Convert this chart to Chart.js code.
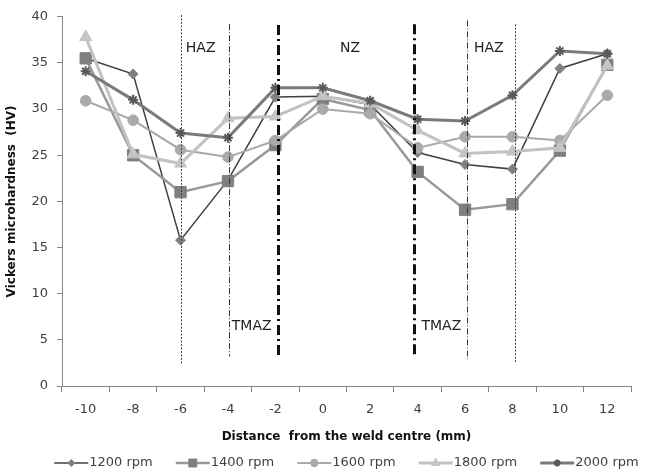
<!DOCTYPE html>
<html>
<head>
<meta charset="utf-8">
<title>Vickers microhardness profile</title>
<script src="https://cdn.jsdelivr.net/npm/chart.js@4.4.1/dist/chart.umd.min.js"></script>
<style>
  body { margin: 0; background: #fff; }
  #wrap { width: 646px; height: 472px; position: relative; }
</style>
</head>
<body>
<div id="wrap"><canvas id="hv"></canvas></div>
<script>
// distance from the weld centre (mm)
const distances = ['-10', '-8', '-6', '-4', '-2', '0', '2', '4', '6', '8', '10', '12'];

// microhardness (HV) for each tool speed
const hv1200 = [35.5, 33.8, 15.8, 22.3, 31.3, 31.4, 30.5, 25.3, 24.0, 23.5, 34.4, 36.0];
const hv1400 = [35.5, 25.0, 21.0, 22.2, 26.1, 31.1, 29.9, 23.2, 19.1, 19.7, 25.5, 34.8];
const hv1600 = [30.9, 28.8, 25.6, 24.8, 26.6, 30.0, 29.5, 25.8, 27.0, 27.0, 26.6, 31.5];
const hv1800 = [37.8, 25.1, 24.1, 29.0, 29.2, 31.4, 30.6, 27.7, 25.2, 25.4, 25.8, 34.7];
const hv2000 = [34.1, 31.0, 27.4, 26.9, 32.3, 32.3, 30.9, 28.9, 28.7, 31.5, 36.3, 36.0];

const seriesNames = ['1200 rpm', '1400 rpm', '1600 rpm', '1800 rpm', '2000 rpm'];

// zone boundary lines (x in mm, y range in HV)
const zoneX = [-6, -3.95, -1.9, 3.85, 6.1, 8.1];
const zoneTop = [40.2, 39.2, 39.1, 39.2, 39.6, 39.2];
const zoneBottom = [2.3, 3.2, 3.0, 3.0, 2.9, 2.5];

// zone names
const zoneNames = ['HAZ', 'NZ', 'HAZ', 'TMAZ', 'TMAZ'];
const zoneNameX = [-5.15, 1.15, 7.0, -3.0, 5.0];
const zoneNameY = [36.6, 36.6, 36.6, 6.5, 6.5];

const FONT = '"DejaVu Sans", "Open Sans", sans-serif';

function mmToIndex(mm) {
  const first = Number(distances[0]);
  const step = Number(distances[1]) - first;
  return (mm - first) / step;
}

const zoneStyles = [
  { width: 1, dash: [2, 1.5], color: '#444' },
  { width: 1, dash: [6, 2, 1, 2], color: '#333' },
  { width: 3, dash: [10, 4, 2, 4], color: '#111' },
  { width: 3, dash: [10, 4, 2, 4], color: '#111' },
  { width: 1, dash: [6, 2, 1, 2], color: '#333' },
  { width: 1, dash: [2, 1.5], color: '#444' }
];

const zonePlugin = {
  id: 'zones',
  afterDatasetsDraw(chart) {
    const ctx = chart.ctx;
    const xs = chart.scales.x, ys = chart.scales.y;
    ctx.save();
    zoneX.forEach((mm, i) => {
      const st = zoneStyles[i];
      const px = Math.round(xs.getPixelForValue(mmToIndex(mm))) + 0.5;
      ctx.strokeStyle = st.color;
      ctx.lineWidth = st.width;
      ctx.setLineDash(st.dash);
      ctx.beginPath();
      ctx.moveTo(px, ys.getPixelForValue(zoneTop[i]));
      ctx.lineTo(px, ys.getPixelForValue(zoneBottom[i]));
      ctx.stroke();
    });
    ctx.setLineDash([]);
    ctx.fillStyle = '#222';
    ctx.font = '14px ' + FONT;
    ctx.textAlign = 'center';
    ctx.textBaseline = 'middle';
    zoneNames.forEach((name, i) => {
      ctx.fillText(name, xs.getPixelForValue(mmToIndex(zoneNameX[i])), ys.getPixelForValue(zoneNameY[i]));
    });
    ctx.restore();
  }
};

// legend row: line + marker, then label
const legendPlugin = {
  id: 'legendRow',
  afterDraw(chart) {
    const ctx = chart.ctx;
    const area = chart.chartArea;
    const iconW = 34, textGap = 1, itemGap = 23;
    ctx.save();
    ctx.font = '13px ' + FONT;
    const items = chart.data.datasets.map(ds => ({ ds, w: iconW + textGap + ctx.measureText(ds.label).width }));
    const total = items.reduce((s, it) => s + it.w, 0) + itemGap * (items.length - 1);
    let x = (area.left + area.right) / 2 - total / 2;
    const y = chart.height - 9;
    items.forEach(it => {
      const ds = it.ds;
      ctx.strokeStyle = ds.borderColor;
      ctx.lineWidth = ds.borderWidth;
      ctx.beginPath();
      ctx.moveTo(x, y);
      ctx.lineTo(x + iconW, y);
      ctx.stroke();
      if (Chart.helpers && Chart.helpers.drawPoint) {
        ctx.fillStyle = ds.pointBackgroundColor;
        ctx.strokeStyle = ds.pointBorderColor;
        ctx.lineWidth = ds.pointBorderWidth;
        Chart.helpers.drawPoint(ctx, { pointStyle: ds.pointStyle, radius: ds.pointRadius * 0.7, rotation: 0, borderWidth: ds.pointBorderWidth }, x + iconW / 2, y);
      }
      ctx.fillStyle = '#404040';
      ctx.textAlign = 'left';
      ctx.textBaseline = 'middle';
      ctx.fillText(ds.label, x + iconW + textGap, y);
      x += it.w + itemGap;
    });
    ctx.restore();
  }
};

function series(i, data, line, lw, style, marker, radius, order) {
  return {
    label: seriesNames[i],
    data: data,
    borderColor: line,
    borderWidth: lw,
    pointStyle: style,
    pointRadius: radius,
    pointBackgroundColor: marker,
    pointBorderColor: marker,
    pointBorderWidth: style === 'star' ? 2 : 1,
    tension: 0,
    fill: false,
    order: order
  };
}

new Chart(document.getElementById('hv'), {
  type: 'line',
  data: {
    labels: distances,
    datasets: [
      series(0, hv1200, '#404040', 1.5, 'rectRot', '#808080', 5, 5),
      series(1, hv1400, '#999999', 2.5, 'rect', '#7f7f7f', 8, 4),
      series(2, hv1600, '#a9a9a9', 2, 'circle', '#a9a9a9', 5.3, 3),
      series(3, hv1800, '#c2c2c2', 3, 'triangle', '#c4c4c4', 7, 2),
      series(4, hv2000, '#7a7a7a', 3, 'star', '#5a5a5a', 5, 1)
    ]
  },
  options: {
    responsive: true,
    maintainAspectRatio: false,
    animation: false,
    layout: { padding: { left: 0, top: 16, right: 15, bottom: 26 } },
    plugins: {
      legend: { display: false },
      tooltip: { enabled: false }
    },
    scales: {
      x: {
        offset: true,
        grid: { offset: true, drawOnChartArea: false, color: '#868686', tickLength: 6 },
        border: { color: '#868686' },
        ticks: { color: '#404040', font: { family: FONT, size: 13 }, padding: 10, maxRotation: 0 },
        title: {
          display: true,
          text: 'Distance  from the weld centre (mm)',
          color: '#111',
          font: { family: FONT, size: 12, weight: 'bold' },
          padding: { top: 0, bottom: 2 }
        },
        afterFit(scale) { scale.height = 60; }
      },
      y: {
        min: 0,
        max: 40,
        grid: { drawOnChartArea: false, color: '#868686', tickLength: 5 },
        border: { color: '#868686' },
        ticks: { stepSize: 5, color: '#404040', font: { family: FONT, size: 13 }, padding: 9 },
        title: {
          display: true,
          text: 'Vickers microhardness  (HV)',
          color: '#111',
          font: { family: FONT, size: 12, weight: 'bold' },
          padding: { top: 5, bottom: 0 }
        },
        afterFit(scale) { scale.width = 62; }
      }
    }
  },
  plugins: [zonePlugin, legendPlugin]
});
</script>
</body>
</html>
